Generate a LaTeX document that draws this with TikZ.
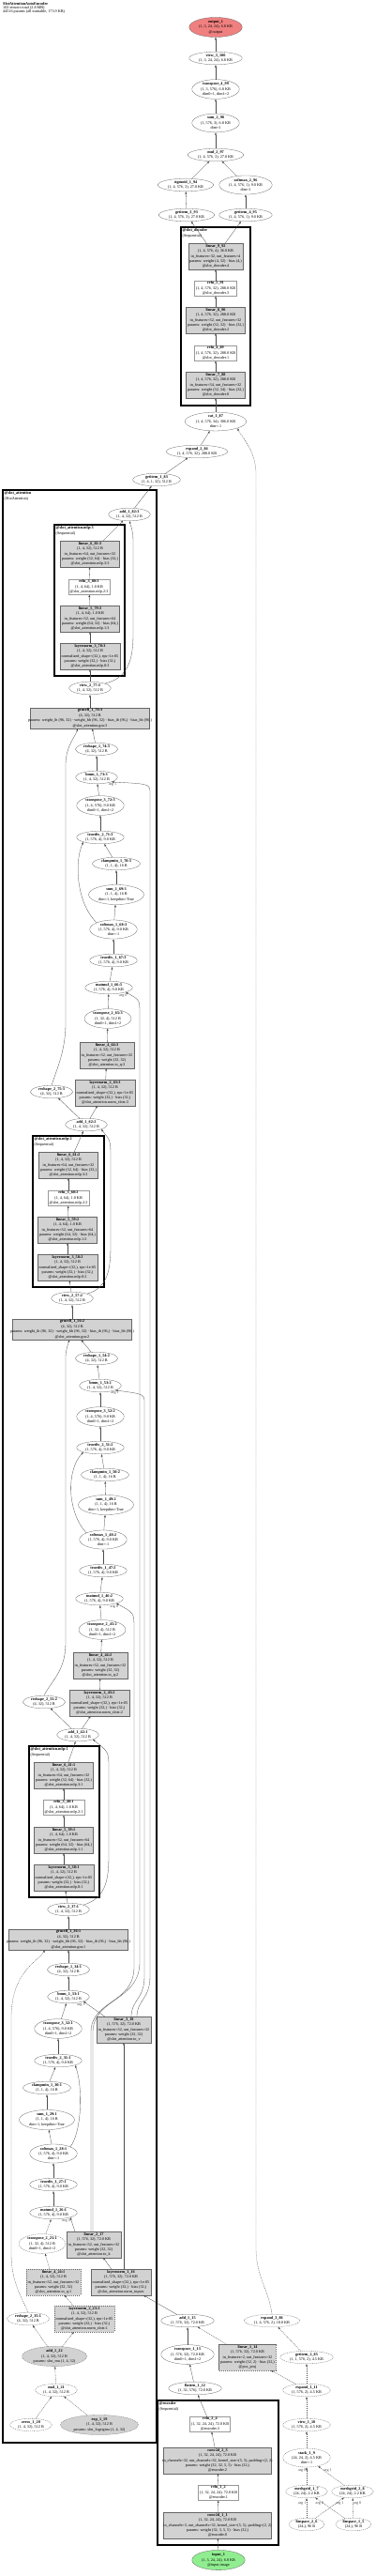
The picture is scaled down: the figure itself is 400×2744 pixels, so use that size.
\documentclass[tikz,border=0pt]{standalone}
\usepackage{fontspec}
\setmainfont{Liberation Serif}
\usetikzlibrary{positioning,arrows.meta,shapes.geometric}
\definecolor{outred}{RGB}{240,128,128}
\definecolor{ingreen}{RGB}{144,238,144}

\begin{document}
\begin{tikzpicture}[
    x=1pt, y=-1pt,
    font=\fontsize{4.2}{5.4}\selectfont,
    op/.style={ellipse, draw=black!60, line width=0.3pt, align=center,
      inner xsep=2pt, inner ysep=0.2pt},
    opp/.style={op, fill=gray!35},
    mod/.style={rectangle, draw=black!60, line width=0.3pt, align=center,
      fill=gray!35, inner xsep=1.5pt, inner ysep=1pt},
    modw/.style={mod, fill=white, draw=black!40, line width=0.25pt},
    rnd/.style={dash pattern=on 1.2pt off 0.8pt},
    clus/.style={draw, line width=1.1pt},
    clab/.style={anchor=north west, align=left, inner sep=1pt},
    arr/.style={-{Latex[length=2.6pt,width=2pt]}, line width=0.3pt, black!70},
    darr/.style={arr, dash pattern=on 1.2pt off 0.8pt},
    elbl/.style={inner sep=0.4pt}
  ]
  \useasboundingbox (0,0) rectangle (400,2744);

  \node[anchor=north west, align=left, inner sep=0pt, font=\fontsize{4.2}{4.3}\selectfont] (title) at (3,2)
    {\textbf{SlotAttentionAutoEncoder}\\102 tensors total (2.8 MB)\\44516 params (all trainable, 173.9 KB)};

  \draw[clus] (193,242) rectangle (267,432);
  \node[clab] (cdec) at (193.5,242.5) {\textbf{@slot\_decoder}\\(Sequential)};
  \draw[clus] (3,522) rectangle (167,2602);
  \node[clab] (cslot) at (3.5,522.5) {\textbf{@slot\_attention}\\(SlotAttention)};
  \draw[clus] (58,559) rectangle (133,720);
  \node[clab] (cmlp3) at (58.5,559.5) {\textbf{@slot\_attention.mlp:3}\\(Sequential)};
  \draw[clus] (35,1210) rectangle (111,1371);
  \node[clab] (cmlp2) at (35.5,1210.5) {\textbf{@slot\_attention.mlp:2}\\(Sequential)};
  \draw[clus] (31,1860) rectangle (106,2021);
  \node[clab] (cmlp1) at (31.5,1860.5) {\textbf{@slot\_attention.mlp:1}\\(Sequential)};
  \draw[clus] (168,2557) rectangle (297,2711);
  \node[clab] (cenc) at (168.5,2557.5) {\textbf{@encoder}\\(Sequential)};

  \node[op, fill=outred] (out1) at (230,29) {\textbf{output\_1}\\(1, 3, 24, 24), 6.8 KB\\@output};
  \node[op] (view3) at (230,62) {\textbf{view\_3\_100}\\(1, 3, 24, 24), 6.8 KB};
  \node[op] (tr4) at (230,95) {\textbf{transpose\_4\_99}\\(1, 3, 576), 6.8 KB\\dim0=1, dim1=2};
  \node[op] (sum2) at (230,131) {\textbf{sum\_2\_98}\\(1, 576, 3), 6.8 KB\\dim=1};
  \node[op] (mul2) at (230,165) {\textbf{mul\_2\_97}\\(1, 4, 576, 3), 27.0 KB};
  \node[op] (sig1) at (198,197) {\textbf{sigmoid\_1\_94}\\(1, 4, 576, 3), 27.0 KB};
  \node[op] (smx2) at (262,197) {\textbf{softmax\_2\_96}\\(1, 4, 576, 1), 9.0 KB\\dim=1};
  \node[op] (gi3) at (199,229) {\textbf{getitem\_3\_93}\\(1, 4, 576, 3), 27.0 KB};
  \node[op] (gi4) at (262,229) {\textbf{getitem\_4\_95}\\(1, 4, 576, 1), 9.0 KB};
  \node[mod] (lin9) at (230,273) {\textbf{linear\_9\_92}\\(1, 4, 576, 4), 36.0 KB\\in\_features=32, out\_features=4\\params: weight (4, 32) · bias (4,)\\@slot\_decoder.4};
  \node[modw] (relu5) at (230,307) {\textbf{relu\_5\_91}\\(1, 4, 576, 32), 288.0 KB\\@slot\_decoder.3};
  \node[mod] (lin8) at (230,341) {\textbf{linear\_8\_90}\\(1, 4, 576, 32), 288.0 KB\\in\_features=32, out\_features=32\\params: weight (32, 32) · bias (32,)\\@slot\_decoder.2};
  \node[modw] (relu4) at (230,376) {\textbf{relu\_4\_89}\\(1, 4, 576, 32), 288.0 KB\\@slot\_decoder.1};
  \node[mod] (lin7) at (230,410) {\textbf{linear\_7\_88}\\(1, 4, 576, 32), 288.0 KB\\in\_features=34, out\_features=32\\params: weight (32, 34) · bias (32,)\\@slot\_decoder.0};
  \node[op] (cat1) at (230,449) {\textbf{cat\_1\_87}\\(1, 4, 576, 34), 306.0 KB\\dim=-1};
  \node[op] (exp2) at (210,481) {\textbf{expand\_2\_84}\\(1, 4, 576, 32), 288.0 KB};
  \node[op] (gi1) at (167,511) {\textbf{getitem\_1\_83}\\(1, 4, 1, 32), 512 B};

  \node[op] (add82) at (138,548) {\textbf{add\_1\_82:3}\\(1, 4, 32), 512 B};
  \node[mod] (lin81) at (96,590) {\textbf{linear\_6\_81:3}\\(1, 4, 32), 512 B\\in\_features=64, out\_features=32\\params: weight (32, 64) · bias (32,)\\@slot\_attention.mlp.3:3};
  \node[modw] (relu80) at (95,625) {\textbf{relu\_3\_80:3}\\(1, 4, 64), 1.0 KB\\@slot\_attention.mlp.2:3};
  \node[mod] (lin79) at (96,659) {\textbf{linear\_5\_79:3}\\(1, 4, 64), 1.0 KB\\in\_features=32, out\_features=64\\params: weight (64, 32) · bias (64,)\\@slot\_attention.mlp.1:3};
  \node[mod] (ln78) at (96,699) {\textbf{layernorm\_3\_78:3}\\(1, 4, 32), 512 B\\normalized\_shape=(32,), eps=1e-05\\params: weight (32,) · bias (32,)\\@slot\_attention.mlp.0:3};
  \node[op] (view77) at (96,733) {\textbf{view\_2\_77:3}\\(1, 4, 32), 512 B};
  \node[mod] (gru76) at (96,765) {\textbf{grucell\_1\_76:3}\\(4, 32), 512 B\\\makebox[124pt]{params: weight\_ih (96, 32) · weight\_hh (96, 32) · bias\_ih (96,) · bias\_hh (96,)}\\@slot\_attention.gru:3};
  \node[op] (rsh74) at (103,798) {\textbf{reshape\_1\_74:3}\\(4, 32), 512 B};
  \node[op] (bmm73) at (103,828) {\textbf{bmm\_1\_73:3}\\(1, 4, 32), 512 B};
  \node[op] (tr72) at (107,858) {\textbf{transpose\_3\_72:3}\\(1, 4, 576), 9.0 KB\\dim0=1, dim1=2};
  \node[op] (div71) at (107,892) {\textbf{truediv\_2\_71:3}\\(1, 576, 4), 9.0 KB};
  \node[op] (clp70) at (124,920) {\textbf{clampmin\_1\_70:3}\\(1, 1, 4), 16 B};
  \node[op] (sum69) at (124,953) {\textbf{sum\_1\_69:3}\\(1, 1, 4), 16 B\\dim=1, keepdim=True};
  \node[op] (smx68) at (121,990) {\textbf{softmax\_1\_68:3}\\(1, 576, 4), 9.0 KB\\dim=-1};
  \node[op] (div67) at (121,1023) {\textbf{truediv\_1\_67:3}\\(1, 576, 4), 9.0 KB};
  \node[op] (mat66) at (116,1052) {\textbf{matmul\_1\_66:3}\\(1, 576, 4), 9.0 KB};
  \node[op] (tr65) at (115,1085) {\textbf{transpose\_2\_65:3}\\(1, 32, 4), 512 B\\dim0=1, dim1=2};
  \node[mod] (lin64) at (114,1124) {\textbf{linear\_4\_64:3}\\(1, 4, 32), 512 B\\in\_features=32, out\_features=32\\params: weight (32, 32)\\@slot\_attention.to\_q:3};
  \node[mod] (ln63) at (112,1164) {\textbf{layernorm\_2\_63:3}\\(1, 4, 32), 512 B\\normalized\_shape=(32,), eps=1e-05\\params: weight (32,) · bias (32,)\\@slot\_attention.norm\_slots:3};
  \node[op] (rsh75) at (55,1163) {\textbf{reshape\_2\_75:3}\\(4, 32), 512 B};
  \node[op] (add62) at (92,1198) {\textbf{add\_1\_62:2}\\(1, 4, 32), 512 B};

  \node[mod] (lin61) at (73,1241) {\textbf{linear\_6\_61:2}\\(1, 4, 32), 512 B\\in\_features=64, out\_features=32\\params: weight (32, 64) · bias (32,)\\@slot\_attention.mlp.3:2};
  \node[modw] (relu60) at (73,1276) {\textbf{relu\_3\_60:2}\\(1, 4, 64), 1.0 KB\\@slot\_attention.mlp.2:2};
  \node[mod] (lin59) at (72,1310) {\textbf{linear\_5\_59:2}\\(1, 4, 64), 1.0 KB\\in\_features=32, out\_features=64\\params: weight (64, 32) · bias (64,)\\@slot\_attention.mlp.1:2};
  \node[mod] (ln58) at (72,1350) {\textbf{layernorm\_3\_58:2}\\(1, 4, 32), 512 B\\normalized\_shape=(32,), eps=1e-05\\params: weight (32,) · bias (32,)\\@slot\_attention.mlp.0:2};
  \node[op] (view57) at (77,1383) {\textbf{view\_2\_57:2}\\(1, 4, 32), 512 B};
  \node[mod] (gru56) at (77,1416) {\textbf{grucell\_1\_56:2}\\(4, 32), 512 B\\\makebox[124pt]{params: weight\_ih (96, 32) · weight\_hh (96, 32) · bias\_ih (96,) · bias\_hh (96,)}\\@slot\_attention.gru:2};
  \node[op] (rsh54) at (103,1447) {\textbf{reshape\_1\_54:2}\\(4, 32), 512 B};
  \node[op] (bmm53) at (107,1476) {\textbf{bmm\_1\_53:2}\\(1, 4, 32), 512 B};
  \node[op] (tr52) at (107,1509) {\textbf{transpose\_3\_52:2}\\(1, 4, 576), 9.0 KB\\dim0=1, dim1=2};
  \node[op] (div51) at (107,1542) {\textbf{truediv\_2\_51:2}\\(1, 576, 4), 9.0 KB};
  \node[op] (clp50) at (112,1571) {\textbf{clampmin\_1\_50:2}\\(1, 1, 4), 16 B};
  \node[op] (sum49) at (113,1603) {\textbf{sum\_1\_49:2}\\(1, 1, 4), 16 B\\dim=1, keepdim=True};
  \node[op] (smx48) at (110,1640) {\textbf{softmax\_1\_48:2}\\(1, 576, 4), 9.0 KB\\dim=-1};
  \node[op] (div47) at (110,1673) {\textbf{truediv\_1\_47:2}\\(1, 576, 4), 9.0 KB};
  \node[op] (mat46) at (106,1703) {\textbf{matmul\_1\_46:2}\\(1, 576, 4), 9.0 KB};
  \node[op] (tr45) at (109,1736) {\textbf{transpose\_2\_45:2}\\(1, 32, 4), 512 B\\dim0=1, dim1=2};
  \node[mod] (lin44) at (107,1774) {\textbf{linear\_4\_44:2}\\(1, 4, 32), 512 B\\in\_features=32, out\_features=32\\params: weight (32, 32)\\@slot\_attention.to\_q:2};
  \node[mod] (ln43) at (106,1814) {\textbf{layernorm\_2\_43:2}\\(1, 4, 32), 512 B\\normalized\_shape=(32,), eps=1e-05\\params: weight (32,) · bias (32,)\\@slot\_attention.norm\_slots:2};
  \node[op] (rsh55) at (47,1813) {\textbf{reshape\_2\_55:2}\\(4, 32), 512 B};
  \node[op] (add42) at (83,1848) {\textbf{add\_1\_42:1}\\(1, 4, 32), 512 B};

  \node[mod] (lin41) at (68,1891) {\textbf{linear\_6\_41:1}\\(1, 4, 32), 512 B\\in\_features=64, out\_features=32\\params: weight (32, 64) · bias (32,)\\@slot\_attention.mlp.3:1};
  \node[modw] (relu40) at (68,1925) {\textbf{relu\_3\_40:1}\\(1, 4, 64), 1.0 KB\\@slot\_attention.mlp.2:1};
  \node[mod] (lin39) at (68,1960) {\textbf{linear\_5\_39:1}\\(1, 4, 64), 1.0 KB\\in\_features=32, out\_features=64\\params: weight (64, 32) · bias (64,)\\@slot\_attention.mlp.1:1};
  \node[mod] (ln38) at (68,2000) {\textbf{layernorm\_3\_38:1}\\(1, 4, 32), 512 B\\normalized\_shape=(32,), eps=1e-05\\params: weight (32,) · bias (32,)\\@slot\_attention.mlp.0:1};
  \node[op] (view37) at (73,2034) {\textbf{view\_2\_37:1}\\(1, 4, 32), 512 B};
  \node[mod] (gru36) at (73,2066) {\textbf{grucell\_1\_36:1}\\(4, 32), 512 B\\\makebox[124pt]{params: weight\_ih (96, 32) · weight\_hh (96, 32) · bias\_ih (96,) · bias\_hh (96,)}\\@slot\_attention.gru:1};
  \node[op] (rsh34) at (73,2098) {\textbf{reshape\_1\_34:1}\\(4, 32), 512 B};
  \node[op] (bmm33) at (73,2127) {\textbf{bmm\_1\_33:1}\\(1, 4, 32), 512 B};
  \node[op] (tr32) at (62,2161) {\textbf{transpose\_3\_32:1}\\(1, 4, 576), 9.0 KB\\dim0=1, dim1=2};
  \node[mod] (lin18) at (132,2162) {\textbf{linear\_3\_18}\\(1, 576, 32), 72.0 KB\\in\_features=32, out\_features=32\\params: weight (32, 32)\\@slot\_attention.to\_v};
  \node[op] (div31) at (62,2195) {\textbf{truediv\_2\_31:1}\\(1, 576, 4), 9.0 KB};
  \node[op] (clp30) at (50,2224) {\textbf{clampmin\_1\_30:1}\\(1, 1, 4), 16 B};
  \node[op] (sum29) at (50,2258) {\textbf{sum\_1\_29:1}\\(1, 1, 4), 16 B\\dim=1, keepdim=True};
  \node[op] (smx28) at (57,2294) {\textbf{softmax\_1\_28:1}\\(1, 576, 4), 9.0 KB\\dim=-1};
  \node[op] (div27) at (57,2327) {\textbf{truediv\_1\_27:1}\\(1, 576, 4), 9.0 KB};
  \node[op] (mat26) at (57,2357) {\textbf{matmul\_1\_26:1}\\(1, 576, 4), 9.0 KB};
  \node[op, rnd] (tr25) at (45,2390) {\textbf{transpose\_2\_25:1}\\(1, 32, 4), 512 B\\dim0=1, dim1=2};
  \node[mod] (lin17) at (100,2391) {\textbf{linear\_2\_17}\\(1, 576, 32), 72.0 KB\\in\_features=32, out\_features=32\\params: weight (32, 32)\\@slot\_attention.to\_k};
  \node[mod, rnd] (lin24) at (57,2431) {\textbf{linear\_4\_24:1}\\(1, 4, 32), 512 B\\in\_features=32, out\_features=32\\params: weight (32, 32)\\@slot\_attention.to\_q:1};
  \node[mod] (ln16) at (129,2431) {\textbf{layernorm\_1\_16}\\(1, 576, 32), 72.0 KB\\normalized\_shape=(32,), eps=1e-05\\params: weight (32,) · bias (32,)\\@slot\_attention.norm\_inputs};
  \node[op, rnd] (rsh35) at (30,2470) {\textbf{reshape\_2\_35:1}\\(4, 32), 512 B};
  \node[mod, rnd] (ln23) at (90,2470) {\textbf{layernorm\_2\_23:1}\\(1, 4, 32), 512 B\\normalized\_shape=(32,), eps=1e-05\\params: weight (32,) · bias (32,)\\@slot\_attention.norm\_slots:1};
  \node[opp, rnd] (add22) at (58,2510) {\textbf{add\_1\_22}\\(1, 4, 32), 512 B\\params: slot\_mu (1, 4, 32)};
  \node[op, rnd] (mul21) at (60,2546) {\textbf{mul\_1\_21}\\(1, 4, 32), 512 B};
  \node[op, rnd] (zero20) at (33,2583) {\textbf{zeros\_1\_20}\\(1, 4, 32), 512 B};
  \node[opp, rnd] (exp19) at (106,2583) {\textbf{exp\_1\_19}\\(1, 4, 32), 512 B\\params: slot\_logsigma (1, 4, 32)};

  \node[op] (add15) at (200,2472) {\textbf{add\_1\_15}\\(1, 576, 32), 72.0 KB};
  \node[op] (tr13) at (200,2508) {\textbf{transpose\_1\_13}\\(1, 576, 32), 72.0 KB\\dim0=1, dim1=2};
  \node[op] (flat12) at (208,2544) {\textbf{flatten\_1\_12}\\(1, 32, 576), 72.0 KB};
  \node[mod, rnd] (lin14) at (264,2511) {\textbf{linear\_1\_14}\\(1, 576, 32), 72.0 KB\\in\_features=2, out\_features=32\\params: weight (32, 2) · bias (32,)\\@pos\_proj};
  \node[op, rnd] (exp86) at (290,2472) {\textbf{expand\_3\_86}\\(1, 4, 576, 2), 18.0 KB};
  \node[op, rnd] (gi85) at (327,2511) {\textbf{getitem\_2\_85}\\(1, 1, 576, 2), 4.5 KB};
  \node[op, rnd] (exp11) at (327,2546) {\textbf{expand\_1\_11}\\(1, 576, 2), 4.5 KB};
  \node[op, rnd] (view10) at (327,2583) {\textbf{view\_1\_10}\\(1, 576, 2), 4.5 KB};
  \node[op, rnd] (stk9) at (327,2618) {\textbf{stack\_1\_9}\\(24, 24, 2), 4.5 KB\\dim=-1};
  \node[op, rnd] (mg7) at (327,2654) {\textbf{meshgrid\_1\_7}\\(24, 24), 2.2 KB};
  \node[op, rnd] (mg8) at (376,2654) {\textbf{meshgrid\_2\_8}\\(24, 24), 2.2 KB};
  \node[op, rnd] (ls6) at (327,2689) {\textbf{linspace\_2\_6}\\(24,), 96 B};
  \node[op, rnd] (ls5) at (377,2689) {\textbf{linspace\_1\_5}\\(24,), 96 B};

  \node[modw] (relu2) at (224,2582) {\textbf{relu\_2\_4}\\(1, 32, 24, 24), 72.0 KB\\@encoder.3};
  \node[mod] (conv2) at (232,2621) {\textbf{conv2d\_2\_3}\\(1, 32, 24, 24), 72.0 KB\\\makebox[112pt]{in\_channels=32, out\_channels=32, kernel\_size=(5, 5), padding=(2, 2)}\\params: weight (32, 32, 5, 5) · bias (32,)\\@encoder.2};
  \node[modw] (relu1) at (233,2655) {\textbf{relu\_1\_2}\\(1, 32, 24, 24), 72.0 KB\\@encoder.1};
  \node[mod] (conv1) at (232,2690) {\textbf{conv2d\_1\_1}\\(1, 32, 24, 24), 72.0 KB\\\makebox[112pt]{in\_channels=3, out\_channels=32, kernel\_size=(5, 5), padding=(2, 2)}\\params: weight (32, 3, 5, 5) · bias (32,)\\@encoder.0};
  \node[op, fill=ingreen] (in1) at (233,2727) {\textbf{input\_1}\\(1, 3, 24, 24), 6.8 KB\\@input.image};

  \draw[arr] (view3) -- (out1);
  \draw[arr] (tr4) -- (view3);
  \draw[arr] (sum2) -- (tr4);
  \draw[arr] (mul2) -- (sum2);
  \draw[arr] (sig1) -- (mul2);
  \draw[arr] (smx2) -- (mul2);
  \draw[arr] (gi3) -- (sig1);
  \draw[arr] (gi4) -- (smx2);
  \draw[arr] (lin9) -- (gi3);
  \draw[arr] (lin9) -- (gi4);
  \draw[arr] (relu5) -- (lin9);
  \draw[arr] (lin8) -- (relu5);
  \draw[arr] (relu4) -- (lin8);
  \draw[arr] (lin7) -- (relu4);
  \draw[arr] (cat1) -- (lin7);
  \draw[arr] (exp2) -- (cat1);
  \draw[arr] (gi1) -- (exp2);
  \draw[arr] (add82) -- (gi1);

  \draw[arr] (lin81) -- (add82);
  \draw[arr] (relu80) -- (lin81);
  \draw[arr] (lin79) -- (relu80);
  \draw[arr] (ln78) -- (lin79);
  \draw[arr] (view77) -- (ln78);
  \draw[arr] (gru76) -- (view77);
  \draw[arr] (rsh74) -- (gru76);
  \draw[arr] (bmm73) -- (rsh74);
  \draw[arr] (tr72) -- (bmm73);
  \draw[arr] (div71) -- (tr72);
  \draw[arr] (clp70) -- (div71);
  \draw[arr] (sum69) -- (clp70);
  \draw[arr] (smx68) -- (sum69);
  \draw[arr] (div67) -- (smx68);
  \draw[arr] (mat66) -- (div67);
  \draw[arr] (tr65) -- (mat66);
  \draw[arr] (lin64) -- (tr65);
  \draw[arr] (ln63) -- (lin64);
  \draw[arr] (add62) -- (ln63);
  \draw[arr] (add62) -- (rsh75);

  \draw[arr] (lin61) -- (add62);
  \draw[arr] (relu60) -- (lin61);
  \draw[arr] (lin59) -- (relu60);
  \draw[arr] (ln58) -- (lin59);
  \draw[arr] (view57) -- (ln58);
  \draw[arr] (gru56) -- (view57);
  \draw[arr] (rsh54) -- (gru56);
  \draw[arr] (bmm53) -- (rsh54);
  \draw[arr] (tr52) -- (bmm53);
  \draw[arr] (div51) -- (tr52);
  \draw[arr] (clp50) -- (div51);
  \draw[arr] (sum49) -- (clp50);
  \draw[arr] (smx48) -- (sum49);
  \draw[arr] (div47) -- (smx48);
  \draw[arr] (mat46) -- (div47);
  \draw[arr] (tr45) -- (mat46);
  \draw[arr] (lin44) -- (tr45);
  \draw[arr] (ln43) -- (lin44);
  \draw[arr] (add42) -- (ln43);
  \draw[arr] (add42) -- (rsh55);

  \draw[arr] (lin41) -- (add42);
  \draw[arr] (relu40) -- (lin41);
  \draw[arr] (lin39) -- (relu40);
  \draw[arr] (ln38) -- (lin39);
  \draw[arr] (view37) -- (ln38);
  \draw[arr] (gru36) -- (view37);
  \draw[arr] (rsh34) -- (gru36);
  \draw[arr] (bmm33) -- (rsh34);
  \draw[arr] (tr32) -- (bmm33);
  \draw[arr] (div31) -- (tr32);
  \draw[arr] (clp30) -- (div31);
  \draw[arr] (sum29) -- (clp30);
  \draw[arr] (smx28) -- (sum29);
  \draw[arr] (div27) -- (smx28);
  \draw[arr] (mat26) -- (div27);
  \draw[darr] (tr25) -- (mat26);
  \draw[darr] (lin24) -- (tr25);
  \draw[darr] (ln23) -- (lin24);
  \draw[darr] (add22) -- (ln23);
  \draw[darr] (add22) -- (rsh35);
  \draw[darr] (mul21) -- (add22);
  \draw[darr] (zero20) -- (mul21);
  \draw[darr] (exp19) -- (mul21);

  \draw[arr] (smx28.north east) .. controls (88,2270) and (88,2220) .. (div31.south east);
  \draw[arr] (smx48.north west) .. controls (71,1610) and (71,1565) .. (div51.south west);
  \draw[arr] (smx68.north west) .. controls (80,960) and (80,915) .. (div71.south west);

  \draw[arr] (view37.north east) .. controls (114,2022) and (116,2000) .. (116,1975) -- (116,1885) .. controls (116,1866) .. (add42.south east);
  \draw[arr] (view57.north east) .. controls (116,1372) and (118,1350) .. (118,1325) -- (118,1235) .. controls (118,1215) .. (add62.south east);
  \draw[arr] (view77.north east) .. controls (138,722) and (142,700) .. (142,675) -- (142,585) .. controls (142,568) .. (add82.south);

  \draw[darr] (rsh35.north) .. controls (22,2445) and (12,2430) .. (12,2400) -- (12,2150) .. controls (12,2100) and (40,2090) .. ([xshift=-25pt]gru36.south);
  \draw[arr] (rsh55.north) .. controls (55,1790) and (70,1780) .. (70,1750) -- (70,1450) .. controls (70,1440) .. ([xshift=-3pt]gru56.south);
  \draw[arr] (rsh75.north) .. controls (60,1140) and (70,1120) .. (70,1090) -- (70,815) .. controls (70,795) and (80,785) .. ([xshift=-13pt]gru76.south);

  \draw[arr] ([xshift=-20pt]lin17.north) -- (mat26.south east) node[elbl, pos=0.9, anchor=north east] {arg 0};
  \draw[arr] ([xshift=-3pt]lin17.north) -- (97,2165) .. controls (97,2130) and (143,2135) .. (143,2095) -- (143,1735) .. controls (143,1718) .. (mat46.south east) node[elbl, pos=0.95, anchor=north east] {arg 0};
  \draw[arr] ([xshift=-1pt]lin17.north) -- (99,2165) .. controls (99,2128) and (149,2132) .. (149,2090) -- (149,1080) .. controls (149,1065) .. (mat66.south east) node[elbl, pos=0.95, anchor=north east] {arg 0};
  \draw[arr] ([xshift=-20pt]lin18.north) -- (bmm33.south east) node[elbl, pos=0.9, anchor=north east] {arg 1};
  \draw[arr] ([xshift=8pt]lin18.north) .. controls (140,2130) and (154,2130) .. (154,2105) -- (154,1495) .. controls (154,1485) .. (bmm53.south east) node[elbl, pos=0.95, anchor=north east] {arg 1};
  \draw[arr] ([xshift=14pt]lin18.north) .. controls (146,2130) and (160,2130) .. (160,2105) -- (160,845) .. controls (160,835) .. (bmm73.south east) node[elbl, pos=0.95, anchor=north east] {arg 1};

  \draw[arr] (ln16) -- (lin17);
  \draw[arr] (lin18.south |- ln16.north) -- (lin18.south);
  \draw[arr] (add15) -- (ln16);
  \draw[arr] (tr13) -- (add15);
  \draw[darr] (lin14) -- (add15);
  \draw[arr] (flat12) -- (tr13);
  \draw[arr] (relu2) -- (flat12);
  \draw[arr] (conv2) -- (relu2);
  \draw[arr] (relu1) -- (conv2);
  \draw[arr] (conv1) -- (relu1);
  \draw[arr] (in1) -- (conv1);

  \draw[darr] (exp11) -- (lin14);
  \draw[darr] (exp11) -- (gi85);
  \draw[darr] (gi85) -- (exp86);
  \draw[darr] (view10) -- (exp11);
  \draw[darr] (stk9) -- (view10);
  \draw[darr] (mg7) -- (stk9) node[elbl, pos=0.8, left] {arg 0};
  \draw[darr] (mg8) -- (stk9) node[elbl, pos=0.8, right] {arg 1};
  \draw[darr] (ls5) -- (mg7) node[elbl, pos=0.85, below] {arg 0};
  \draw[darr] (ls6) -- (mg7) node[elbl, pos=0.75, left] {arg 1};
  \draw[darr] (ls5) -- (mg8) node[elbl, pos=0.75, right] {arg 0};
  \draw[darr] (ls6) -- (mg8) node[elbl, pos=0.85, below] {arg 1};

  \draw[darr] (exp86.north) .. controls (287,2440) and (273,2425) .. (273,2395) -- (273,505) .. controls (273,480) and (258,466) .. (cat1.south east);
\end{tikzpicture}
\end{document}
